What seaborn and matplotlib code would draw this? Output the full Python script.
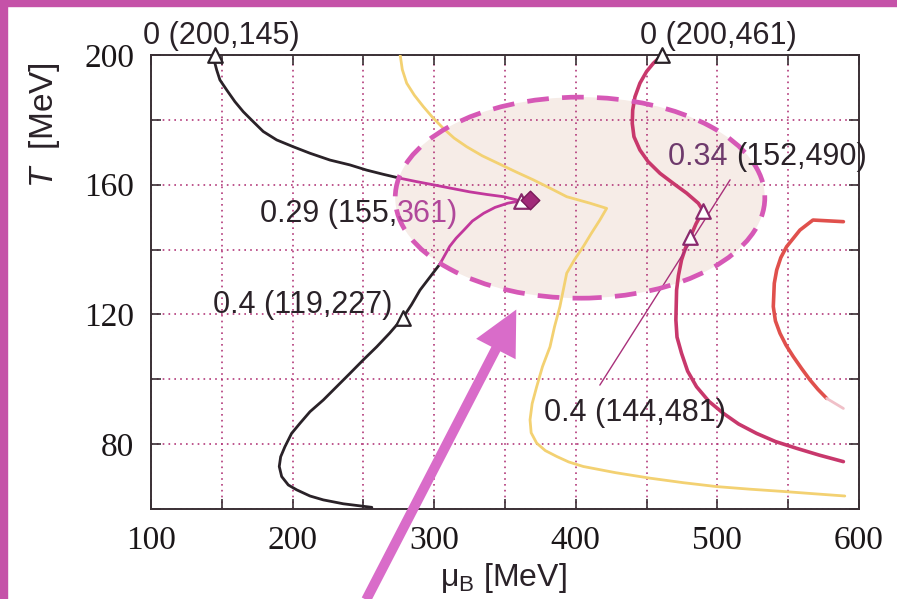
import matplotlib
matplotlib.use("Agg")
import matplotlib.pyplot as plt
from matplotlib.patches import Ellipse, Rectangle
import seaborn as sns

# ---- phase-diagram trajectories (mu_B [MeV], T [MeV]) ----
black_upper_mu = [145, 145.2, 146.4, 148.7, 153.5, 159.3, 165.2, 172.3, 179.3,
                  188.8, 200.5, 212.3, 226.4, 240.5, 252.3, 264.1, 275.8]
black_upper_T = [200, 197.4, 195.4, 192.3, 189.2, 185.6, 182.5, 179.4, 176.4,
                 173.8, 171.7, 169.7, 167.6, 166.1, 164.5, 163.2, 162]
magenta_upper_mu = [275.8, 287, 299, 312, 325, 337, 349, 361]
magenta_upper_T = [162, 161, 160, 158.9, 157.8, 157, 156.3, 155]

magenta_lower_mu = [361, 352, 343, 335, 327, 321, 315.5, 311, 304]
magenta_lower_T = [155, 154.3, 153, 151.2, 148.8, 146, 143.5, 141, 135.5]
black_lower_mu = [304, 297, 290, 284, 278, 268.5, 259.4, 250, 240.5, 231.1,
                  221.7, 212.3, 205.2, 199.3, 194.6, 191.6, 190.6, 192.3, 197,
                  202.9, 212.3, 221.7, 235.8, 252.3, 256]
black_lower_T = [135.5, 131.5, 127.5, 123, 119, 114.2, 110, 106, 101.8, 97.7,
                 93.6, 90, 86.4, 83.3, 79.2, 76.1, 73.1, 70, 67.4,
                 65.9, 64, 62.8, 61.6, 60.7, 60.5]

yellow_mu = [276, 277.5, 280.6, 286, 292.3, 299, 306.4, 314, 323, 334, 346.5,
             358, 370, 382, 393.6, 410, 421.8, 417, 411, 405.3, 399, 393.6,
             388.8, 385, 381.8, 376.5, 372.4, 369.2, 367.7, 368.5, 372.4,
             378.5, 386.5, 395, 405.3, 428, 452.4, 476, 499.5, 523, 546.5, 568, 590]
yellow_T = [200, 195.5, 191.3, 187.6, 184.1, 180.7, 177.4, 174.4, 171.7, 168.9, 166.3,
            163.9, 161.5, 158.9, 156.3, 154.3, 152.7, 149.1, 145, 140.9, 136.8, 132.7,
            122.4, 116.2, 110, 103.9, 97.7, 92.5, 87.5, 83.5, 80.3,
            78, 76.2, 74.5, 73.1, 71.2, 69.5, 68.1, 66.9, 66.1, 65.4, 64.7, 64]

red_upper_mu = [461, 454.7, 450, 445.3, 441.8, 440.2, 439.9, 441.1, 445.3, 451.1,
                459.5, 468.9, 478.3, 486.5, 490]
red_upper_T = [200, 197.4, 194.9, 191.3, 187.1, 183, 178.9, 174.8, 170.7, 167.1,
               163.5, 160.4, 157.4, 154.3, 152]
red_lower_mu = [490, 485, 481, 477.5, 474.7, 472.5, 471.2, 470.7, 471.5, 474.7,
                479, 485.3, 494, 504.2, 515, 527.7, 541, 556, 572, 589]
red_lower_T = [152, 148, 144, 140.5, 136.8, 132, 127.5, 118.3, 113, 108,
               102.5, 97.7, 93.2, 89.5, 86.2, 83.3, 80.8, 78.7, 76.6, 74.6]

orange_mu = [589, 567.5, 558.3, 548.9, 544.8, 541.9, 540.2, 539.5, 541, 544.2,
             548.5, 553.6, 559.5, 565.4, 571, 577.2]
orange_T = [148.6, 149.1, 146, 140.9, 137.5, 133.7, 129.6, 122.4, 118, 114.2,
            110.5, 107, 103.3, 99.8, 96.9, 94.1]
orange_tail_mu = [577.2, 589]
orange_tail_T = [94.1, 91]

leader_mu = [417, 509]
leader_T = [98.2, 161.5]

# ---- labelled points: (T, mu_B) ----
dark_pts_mu = [145, 278, 461]
dark_pts_T = [200, 119, 200]
purple_pts_mu = [361, 490, 481]
purple_pts_T = [155, 152, 144]
critical_mu = [368]
critical_T = [155.3]

point_labels = ["0 (200,145)", "0 (200,461)", "0.4 (119,227)", "0.4 (144,481)"]
label_mu = [150, 501, 207, 442]
label_T = [206, 206, 123, 89.6]

# ---- critical region ----
region_center = (403, 156)
region_width = 261
region_height = 62

# ---- arrow pointing into the region ----
arrow_tail = (252, 32)
arrow_tip = (358, 121.5)

x_ticks = [100, 200, 300, 400, 500, 600]
x_minor = [150, 250, 350, 450, 550]
y_ticks = [80, 120, 160, 200]
y_minor = [60, 100, 140, 180]

sns.set_theme(style="ticks")
plt.rcParams['font.family'] = ['Liberation Sans', 'DejaVu Sans']
plt.rcParams['mathtext.fontset'] = 'custom'
plt.rcParams['mathtext.rm'] = 'Liberation Sans'
plt.rcParams['mathtext.it'] = 'Liberation Sans:italic'

ink = "#2a2228"
frame = "#3a3035"
grid_c = "#b3397a"
magenta = "#c2389c"
yellow = "#f3d172"
crimson = "#c8386c"
orange = "#e0504c"
ellipse_c = "#d658b6"
arrow_c = "#d96cc9"
fs = 22

fig = plt.figure(figsize=(8.97, 5.99), dpi=100)
ax = fig.add_axes([0.1683, 0.1503, 0.7893, 0.7579])
ax.set_xlim(100, 600)
ax.set_ylim(60, 200)

# page border
fig.patches.append(Rectangle((0, 1 - 6 / 599), 1, 6 / 599, transform=fig.transFigure,
                             color="#c552a8", zorder=10))
fig.patches.append(Rectangle((0, 0), 7 / 897, 1, transform=fig.transFigure,
                             color="#c552a8", zorder=10))

# shaded critical region and its dashed outline
ax.add_patch(Ellipse(region_center, region_width, region_height,
                     facecolor="#f6ece7", edgecolor="none", zorder=0.3))
ax.add_patch(Ellipse(region_center, region_width, region_height, fill=False,
                     edgecolor=ellipse_c, lw=3.4, linestyle=(0, (4.6, 2.8)), zorder=4))


def curve(mu, T, color, lw, z=3):
    sns.lineplot(x=mu, y=T, sort=False, estimator=None, color=color, lw=lw,
                 ax=ax, zorder=z)


curve(black_upper_mu, black_upper_T, ink, 2.0)
curve(magenta_upper_mu, magenta_upper_T, magenta, 2.0)
curve(magenta_lower_mu, magenta_lower_T, magenta, 2.0)
curve(black_lower_mu, black_lower_T, ink, 2.0)
curve(yellow_mu, yellow_T, yellow, 2.0)
curve(red_upper_mu, red_upper_T, crimson, 2.6)
curve(red_lower_mu, red_lower_T, crimson, 2.6)
curve(orange_mu, orange_T, orange, 2.6)
curve(orange_tail_mu, orange_tail_T, "#f0c0c8", 2.0)
curve(leader_mu, leader_T, "#a8307a", 1.0)

sns.scatterplot(x=dark_pts_mu, y=dark_pts_T, marker="^", s=110, color="white",
                edgecolor=ink, linewidth=1.6, ax=ax, zorder=6, clip_on=False)
sns.scatterplot(x=purple_pts_mu, y=purple_pts_T, marker="^", s=110, color="white",
                edgecolor="#8a2a6e", linewidth=1.6, ax=ax, zorder=6, clip_on=False)
sns.scatterplot(x=critical_mu, y=critical_T, marker="D", s=90, color="#a02a78",
                edgecolor="#7a1a5a", linewidth=1.0, ax=ax, zorder=6)

# annotations
for txt, m, t in zip(point_labels, label_mu, label_T):
    ax.text(m, t, txt, ha="center", va="center", fontsize=fs, color=ink,
            clip_on=False, zorder=7)

t1 = ax.text(177, 151, "0.29 (155,", ha="left", va="center", fontsize=fs,
             color=ink, zorder=7)
ax.annotate("361)", xy=(1, 0), xycoords=t1, va="bottom", ha="left",
            fontsize=fs, color="#b0489a", zorder=7)
t2 = ax.text(465, 168.5, "0.34 ", ha="left", va="center", fontsize=fs,
             color="#6e3a6c", zorder=7)
ax.annotate("(152,490)", xy=(1, 0), xycoords=t2, va="bottom", ha="left",
            fontsize=fs, color=ink, zorder=7, annotation_clip=False)

ax.annotate("", xy=arrow_tip, xytext=arrow_tail, xycoords="data",
            annotation_clip=False, zorder=9,
            arrowprops=dict(arrowstyle="simple,head_length=1.6,head_width=1.6,tail_width=0.36",
                            mutation_scale=20, color=arrow_c, lw=0,
                            shrinkA=0, shrinkB=0))

# axes styling
ax.set_xticks(x_ticks)
ax.set_xticks(x_minor, minor=True)
ax.set_yticks(y_ticks)
ax.set_yticks(y_minor, minor=True)
ax.set_axisbelow(True)
ax.grid(which="both", color=grid_c, linestyle=(0, (1, 2.5)), lw=1.2)
ax.tick_params(which="both", direction="in", top=True, right=True, length=7,
               width=1.2, color=frame, labelsize=24, pad=12, labelcolor="#1a1618")
for lab in ax.get_xticklabels() + ax.get_yticklabels():
    lab.set_fontfamily("Liberation Serif")
for sp in ax.spines.values():
    sp.set_color(frame)
    sp.set_linewidth(1.4)

ax.set_xlabel("")
ax.set_ylabel("")
fig.text(503 / 897, 1 - 578 / 599, r"μ$_{\mathregular{B}}$ [MeV]", ha="center",
         va="center", fontsize=23, color=ink)
fig.text(45 / 897, 1 - 125 / 599, r"$T$  [MeV]", ha="center", va="center",
         rotation=90, fontsize=24, color=ink)

fig.savefig("out.png", dpi=100)
